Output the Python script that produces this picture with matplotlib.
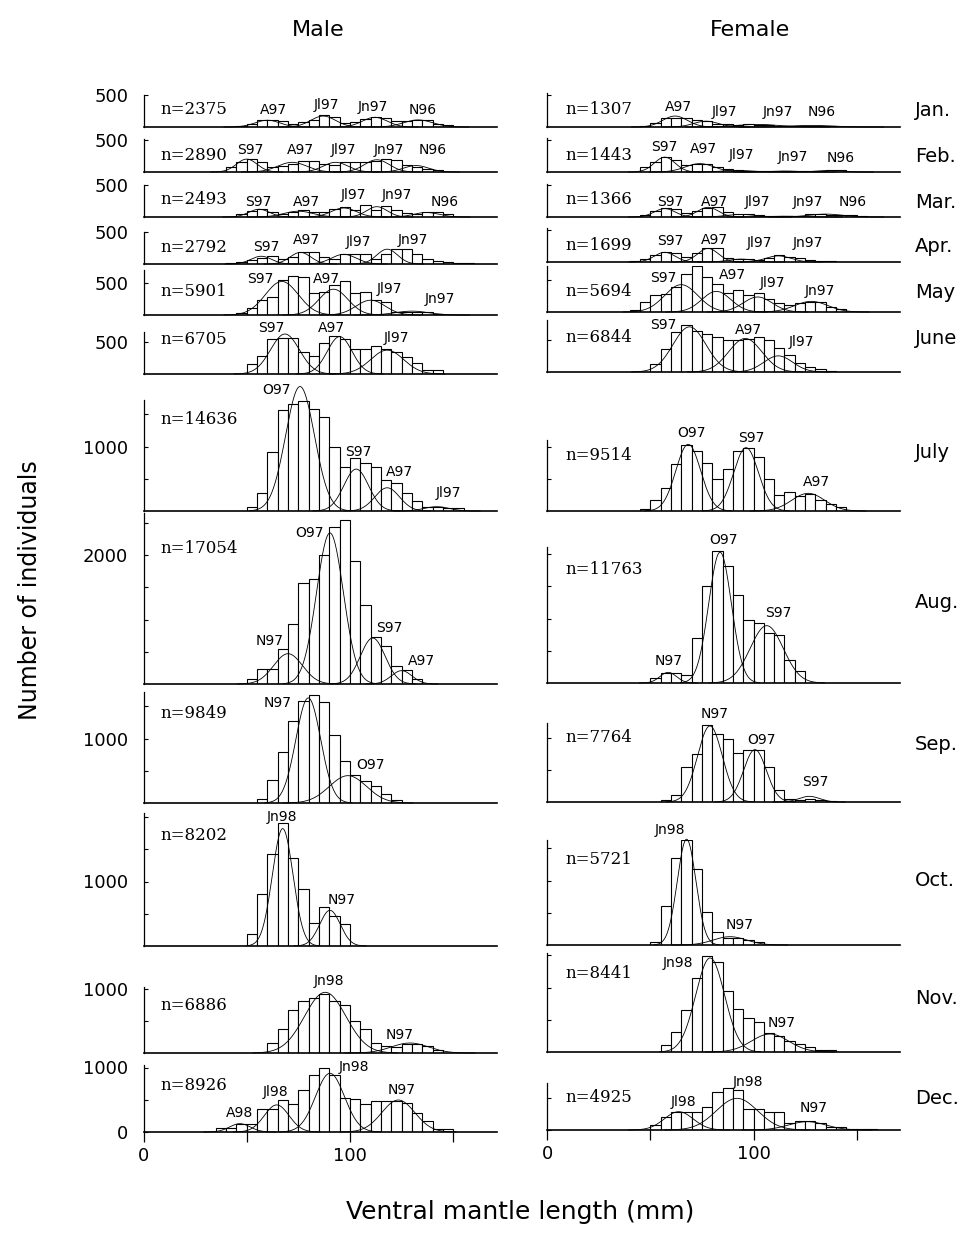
import numpy as np
import matplotlib
matplotlib.use('Agg')
import matplotlib.pyplot as plt

# ---------------- data ----------------
MONTHS = ['Jan.', 'Feb.', 'Mar.', 'Apr.', 'May', 'June', 'July',
          'Aug.', 'Sep.', 'Oct.', 'Nov.', 'Dec.']
BIN_WIDTH = 5  # mm

MALE_N = [2375, 2890, 2493, 2792, 5901, 6705, 14636, 17054, 9849, 8202, 6886, 8926]
FEMALE_N = [1307, 1443, 1366, 1699, 5694, 6844, 9514, 11763, 7764, 5721, 8441, 4925]

# first bin (mm) of each monthly histogram
MALE_START = [45, 40, 45, 40, 45, 50, 50, 50, 55, 50, 60, 35]
FEMALE_START = [45, 45, 45, 40, 40, 50, 45, 50, 55, 50, 55, 50]

# counts per 5-mm class
MALE_COUNTS = [
    [10, 52, 103, 103, 88, 41, 78, 114, 181, 155, 62, 78, 129, 155, 145, 93, 93, 114, 114, 52, 26],
    [78, 155, 207, 155, 78, 93, 129, 165, 165, 129, 103, 155, 155, 155, 165, 196, 181, 114, 78, 52, 26],
    [52, 93, 129, 78, 52, 78, 103, 78, 78, 129, 155, 103, 181, 114, 165, 114, 62, 52, 78, 78, 41],
    [16, 26, 62, 93, 129, 78, 103, 181, 181, 114, 78, 155, 155, 155, 78, 155, 233, 233, 155, 78, 52, 26, 16, 16],
    [26, 103, 233, 284, 543, 605, 584, 336, 362, 465, 533, 336, 362, 233, 207, 52, 41, 52, 41, 16],
    [155, 284, 543, 553, 553, 336, 284, 476, 595, 543, 388, 388, 439, 388, 336, 259, 165, 62, 62],
    [67, 274, 920, 1566, 1660, 1706, 1577, 1463, 998, 688, 817, 750, 688, 481, 439, 274, 160, 67, 67, 41, 41],
    [78, 233, 233, 543, 931, 1566, 1629, 2006, 2430, 2549, 1913, 1225, 724, 595, 284, 217, 78],
    [62, 352, 786, 1267, 1577, 1680, 1561, 1060, 646, 439, 336, 259, 145, 52],
    [191, 801, 1422, 1913, 1370, 889, 362, 605, 465, 336],
    [155, 372, 662, 801, 853, 920, 801, 750, 491, 372, 155, 114, 93, 145, 145, 103, 41],
    [62, 62, 129, 129, 362, 362, 491, 439, 646, 884, 987, 884, 522, 512, 434, 481, 481, 481, 445, 290, 176, 41, 41],
]
FEMALE_COUNTS = [
    [16, 62, 140, 145, 145, 103, 88, 41, 41, 31, 41, 31, 31, 21, 16, 21, 21, 16, 10],
    [85, 160, 240, 190, 115, 125, 125, 85, 45, 28, 17, 11, 11, 17, 23, 17, 11, 23, 28, 28],
    [31, 93, 136, 124, 62, 93, 136, 155, 74, 50, 43, 31, 19, 12, 12, 12, 43, 50, 37, 37, 25, 19],
    [11, 45, 114, 154, 142, 85, 142, 210, 210, 68, 45, 45, 28, 68, 102, 74, 57, 28, 11, 11],
    [26, 155, 269, 284, 388, 595, 708, 543, 439, 300, 336, 259, 300, 207, 145, 114, 145, 155, 155, 78, 41],
    [129, 362, 620, 724, 631, 595, 543, 501, 501, 517, 543, 491, 372, 269, 145, 78, 52, 16],
    [26, 171, 362, 724, 1024, 931, 750, 501, 646, 931, 982, 838, 501, 243, 295, 233, 259, 171, 114, 62],
    [78, 155, 155, 129, 698, 1499, 2042, 1810, 1370, 982, 931, 776, 739, 362, 181],
    [26, 114, 543, 750, 1189, 1060, 972, 760, 812, 812, 543, 181, 52, 26, 52, 26, 16],
    [52, 610, 1355, 1629, 1174, 517, 207, 114, 103, 78, 52],
    [103, 310, 646, 1148, 1484, 1396, 941, 672, 527, 465, 295, 243, 165, 129, 78, 26, 26],
    [78, 207, 284, 284, 284, 362, 595, 646, 620, 321, 321, 284, 284, 103, 140, 140, 114, 52, 41, 21, 21, 21],
]

# fitted cohorts: (label, mean mm, sd mm, peak count, label x mm, label y count)
MALE_COHORTS = [
    [('A97', 60, 6, 105, 63, 258), ('Jl97', 87, 6, 170, 88.7, 336),
     ('Jn97', 112, 6, 150, 111, 310), ('N96', 133, 7, 110, 135, 269)],
    [('S97', 50, 5, 200, 51.6, 336), ('A97', 72, 7, 150, 75.8, 336), ('Jl97', 93, 6, 150, 96.7, 336),
     ('Jn97', 113, 6, 190, 119, 336), ('N96', 132, 6, 100, 140, 336)],
    [('S97', 56, 5, 120, 55.6, 233), ('A97', 75, 7, 90, 79, 233), ('Jl97', 97, 6, 140, 101.6, 336),
     ('Jn97', 113, 5, 160, 122.6, 336), ('N96', 137, 6, 70, 146, 233)],
    [('S97', 57, 5, 120, 59.6, 269), ('A97', 76, 5, 180, 79, 372),
     ('Jl97', 97, 6, 150, 104, 346), ('Jn97', 118, 5, 230, 130.6, 372)],
    [('S97', 67, 8, 520, 56.4, 560), ('A97', 92, 7, 400, 88.7, 560),
     ('Jl97', 110, 7, 230, 119, 400), ('Jn97', 130, 8, 60, 143.6, 250)],
    [('S97', 68.5, 7, 620, 62, 708), ('A97', 95, 6, 580, 91, 708), ('Jl97', 118, 8, 370, 122.6, 553)],
    [('O97', 75.8, 7, 1930, 64.5, 1876), ('S97', 103, 6, 650, 104, 917),
     ('A97', 118, 6, 360, 124, 610), ('Jl97', 142, 6, 67, 147.6, 274)],
    [('N97', 70, 7, 470, 61, 662), ('O97', 90.3, 6.5, 2342, 80.6, 2341),
     ('S97', 111, 6, 713, 119, 868), ('A97', 125, 5, 207, 134.7, 351)],
    [('N97', 79.8, 6, 1629, 65, 1550), ('O97', 99, 9, 424, 109.7, 594)],
    [('Jn98', 67.4, 5, 1820, 67, 2000), ('N97', 90.3, 5, 553, 96, 708)],
    [('Jn98', 88, 10, 941, 90, 1111), ('N97', 129, 9, 155, 124, 284)],
    [('A98', 46.7, 5, 129, 46.7, 289), ('Jl98', 64.5, 6, 420, 63.7, 625),
     ('Jn98', 90.3, 7, 910, 102, 1013), ('N97', 123.4, 8, 496, 125, 651)],
]
FEMALE_COHORTS = [
    [('A97', 62, 6, 170, 63.6, 310), ('Jl97', 77, 6, 90, 86, 233),
     ('Jn97', 102, 10, 40, 112, 233), ('N96', 128, 10, 25, 133, 233)],
    [('S97', 57, 5, 230, 57, 388), ('A97', 74, 7, 130, 75.7, 362), ('Jl97', 92, 7, 25, 94, 258),
     ('Jn97', 115, 7, 15, 119, 233), ('N96', 137, 6, 25, 142, 222)],
    [('S97', 57, 5, 130, 59.6, 233), ('A97', 78, 5, 150, 81, 233), ('Jl97', 94, 7, 40, 102, 233),
     ('Jn97', 115, 8, 12, 126.5, 233), ('N96', 135, 8, 45, 148, 233)],
    [('S97', 57, 5, 150, 59.6, 320), ('A97', 78, 5, 210, 81, 346),
     ('Jl97', 94, 6, 45, 103, 295), ('Jn97', 112, 6, 95, 126.5, 295)],
    [('S97', 65, 8, 424, 56.3, 527), ('A97', 82, 7, 320, 90, 578),
     ('Jl97', 102, 7, 233, 109, 450), ('Jn97', 128, 8, 165, 132, 320)],
    [('S97', 69, 8, 700, 56.3, 723), ('A97', 96, 8, 520, 97.5, 646), ('Jl97', 112, 7, 250, 123, 465)],
    [('O97', 68.4, 6, 1034, 70, 1204), ('S97', 96.4, 6, 982, 99, 1127), ('A97', 126.5, 8, 274, 130.6, 455)],
    [('N97', 58.7, 4, 165, 58.7, 336), ('O97', 83.8, 5.5, 2027, 85.7, 2222), ('S97', 106.4, 8, 889, 112, 1085)],
    [('N97', 78.9, 6, 1179, 81, 1370), ('O97', 100.7, 5.5, 812, 104, 956), ('S97', 127, 5, 88, 130, 310)],
    [('Jn98', 67.6, 4.5, 1640, 59.6, 1783), ('N97', 88.6, 8, 129, 93.4, 310)],
    [('Jn98', 79, 7, 1458, 63.6, 1380), ('N97', 108, 9, 279, 113.6, 450)],
    [('Jl98', 63.8, 7, 284, 66, 440), ('Jn98', 92, 10, 491, 97.5, 750), ('N97', 126, 9, 129, 129, 336)],
]

MALE_YTICKLABEL = [500, 500, 500, 500, 500, 500, 1000, 2000, 1000, 1000, 1000, 1000]
X_TICKS = [0, 50, 100, 150]
X_TICKLABELS = ['0', '', '100', '']

# ---------------- layout (pixels) ----------------
W, H = 980, 1246
PX_PER_MM = 2.065
PX_PER_COUNT = 0.0645
XMAX = 171
LEFT_X0, RIGHT_X0 = 143.5, 547
MALE_BOX = [(95, 127), (139, 172), (185, 217), (232, 264), (270, 315), (332, 374),
            (400, 511), (513, 684), (692, 803), (813, 946), (987, 1053), (1065, 1132)]
FEMALE_BOX = [(93, 127), (138, 172), (184, 217), (228, 262), (266, 312), (320, 372),
              (440, 511), (547, 683), (723, 802), (840, 945), (953, 1052), (1083, 1130)]
MALE_NTEXT_Y = [110, 155, 200, 247, 292, 340, 420, 548, 713, 835, 1005, 1085]
FEMALE_NTEXT_Y = [110, 155, 200, 245, 292, 338, 455, 570, 737, 860, 973, 1098]
MONTH_Y = [110, 157, 202, 247, 293, 338, 453, 603, 745, 880, 998, 1098]

fig = plt.figure(figsize=(W / 100, H / 100), dpi=100)
fig.patch.set_facecolor('white')


def draw_panel(x0, box, start, counts, cohorts, ylabel_val, is_bottom, is_left):
    top, base = box
    width_px = XMAX * PX_PER_MM
    ymax = (base - top) / PX_PER_COUNT
    yt = np.arange(500, ymax + 30, 500)
    ymax = max(ymax, yt[-1])
    # keep the pixel scale: extend the box upward if needed
    top = base - ymax * PX_PER_COUNT
    ax = fig.add_axes([x0 / W, 1 - base / H, width_px / W, (base - top) / H])
    ax.set_xlim(0, XMAX)
    ax.set_ylim(0, ymax)
    ax.patch.set_alpha(0)
    for s in ('top', 'right'):
        ax.spines[s].set_visible(False)
    ax.spines['left'].set_linewidth(0.9)
    ax.spines['bottom'].set_linewidth(1.2)

    edges = start + BIN_WIDTH * np.arange(len(counts))
    ax.bar(edges, counts, width=BIN_WIDTH, align='edge', facecolor='white',
           edgecolor='black', linewidth=0.8, zorder=2)

    for (lab, mu, sd, peak, lx, ly) in cohorts:
        xs = np.linspace(mu - 3.5 * sd, mu + 3.5 * sd, 200)
        ys = peak * np.exp(-0.5 * ((xs - mu) / sd) ** 2)
        ax.plot(xs, ys, color='black', lw=0.6, zorder=3, clip_on=False)
        ax.text(lx, ly, lab, ha='center', va='center', fontsize=10,
                family='DejaVu Sans', zorder=4, clip_on=False)

    if is_bottom:
        yt = np.concatenate([[0], yt])
    ax.set_yticks(yt)
    if is_left:
        labs = []
        for v in yt:
            if v == ylabel_val or (is_bottom and v == 0):
                labs.append(str(int(v)))
            else:
                labs.append('')
        ax.set_yticklabels(labs, fontsize=13)
    else:
        ax.set_yticklabels([''] * len(yt))
    ax.tick_params(axis='y', direction='in', length=3, width=0.8, pad=11)

    if is_bottom:
        ax.set_xticks(X_TICKS)
        ax.set_xticklabels(X_TICKLABELS, fontsize=13)
        ax.tick_params(axis='x', direction='out', length=7.5, width=0.9, pad=3)
    else:
        ax.set_xticks([])
    return ax


for i in range(12):
    bottom = (i == 11)
    draw_panel(LEFT_X0, MALE_BOX[i], MALE_START[i], MALE_COUNTS[i], MALE_COHORTS[i],
               MALE_YTICKLABEL[i], bottom, True)
    draw_panel(RIGHT_X0, FEMALE_BOX[i], FEMALE_START[i], FEMALE_COUNTS[i], FEMALE_COHORTS[i],
               None, bottom, False)
    fig.text(160 / W, 1 - MALE_NTEXT_Y[i] / H, f'n={MALE_N[i]}', family='DejaVu Serif',
             fontsize=12, ha='left', va='center')
    fig.text(565 / W, 1 - FEMALE_NTEXT_Y[i] / H, f'n={FEMALE_N[i]}', family='DejaVu Serif',
             fontsize=12, ha='left', va='center')
    fig.text(915 / W, 1 - MONTH_Y[i] / H, MONTHS[i], fontsize=14, ha='left', va='center')

fig.text(318 / W, 1 - 30 / H, 'Male', fontsize=16, ha='center', va='center')
fig.text(750 / W, 1 - 30 / H, 'Female', fontsize=16, ha='center', va='center')
fig.text(520 / W, 1 - 1212 / H, 'Ventral mantle length (mm)', fontsize=18,
         ha='center', va='center')
fig.text(30 / W, 1 - 590 / H, 'Number of individuals', fontsize=17, rotation=90,
         ha='center', va='center')

fig.savefig('out.png', dpi=100, facecolor='white')
